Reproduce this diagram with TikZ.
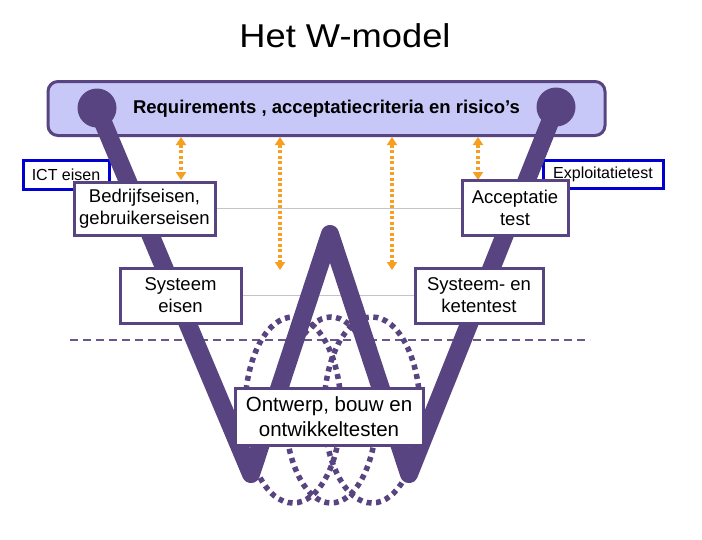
\documentclass[tikz,border=0pt]{standalone}
\usepackage{fontspec}
\setmainfont{Liberation Sans}
\usetikzlibrary{arrows.meta,calc}
\definecolor{wpurple}{RGB}{88,68,128}
\definecolor{barfill}{RGB}{200,200,248}
\definecolor{worange}{RGB}{245,160,35}
\definecolor{wblue}{RGB}{0,0,210}
\definecolor{wgray}{RGB}{195,195,202}
\begin{document}
\begin{tikzpicture}[x=1pt,y=-1pt,
  levelbox/.style={draw=wpurple, line width=3pt, fill=white, align=center, inner sep=0pt,
    font=\fontsize{18.5}{22}\selectfont},
  tagbox/.style={draw=wblue, line width=3pt, fill=white, inner sep=0pt,
    font=\fontsize{16}{19}\selectfont},
  wline/.style={draw=wpurple, line width=18pt, line join=round, line cap=round},
  oarrow/.style={draw=worange, line width=3.2pt, dash pattern=on 3pt off 2.5pt,
    {Triangle[width=10pt,length=8pt]}-{Triangle[width=10pt,length=8pt]}},
  dotring/.style={draw=wpurple, line width=5.5pt, dash pattern=on 5pt off 4.5pt},
  guide/.style={draw=wgray, line width=1pt},
  levelline/.style={draw=wpurple!90, line width=1.4pt, dash pattern=on 8pt off 5pt},
  bullet/.style={circle, fill=wpurple, minimum size=39pt, inner sep=0pt}
]
\useasboundingbox (0,0) rectangle (702,539);
\fill[white] (0,0) rectangle (702,539);

% title
\node[font=\fontsize{33}{38}\selectfont, xscale=1.1] (title) at (345,36) {Het W-model};

% boxes (placed first so guides can refer to them)
\node[levelbox, minimum width=141pt, minimum height=53pt] (bedr) at (144.5,208.5) {Bedrijfseisen,\\gebruikerseisen};
\node[levelbox, minimum width=106pt, minimum height=55pt] (acc) at (515,207.5) {Acceptatie\\test};
\node[levelbox, minimum width=121pt, minimum height=55pt] (sys) at (180.5,295.5) {Systeem\\eisen};
\node[levelbox, minimum width=128pt, minimum height=55pt] (ket) at (479,295.5) {Systeem- en\\ketentest};

% coordinates
\coordinate (bl) at (251,474);
\coordinate (pk) at (330,234);
\coordinate (br) at (409,474);
\coordinate (dl) at (70,340);
\coordinate (dr) at (590,340);
\coordinate (a1) at (181,180);
\coordinate (a2) at (280,270);
\coordinate (a3) at (392,270);
\coordinate (a4) at (478,180);

% guide lines
\draw[guide] (bedr.east) -- (bedr.east -| acc.west);
\draw[guide] (sys.east) -- (sys.east -| ket.west);

% dashed level line
\draw[levelline] (dl) -- (dr);

% dotted rings
\draw[dotring] (293,410) ellipse [x radius=48, y radius=93];
\draw[dotring] (331,410) ellipse [x radius=46, y radius=93];
\draw[dotring] (372,410) ellipse [x radius=48, y radius=93];

% tag boxes
\node[tagbox, minimum width=86pt, minimum height=29pt] (ict) at (66,174.5) {ICT eisen};
\node[tagbox, minimum width=120pt, minimum height=28pt] (expl) at (603,174) {Exploitatietest};

% top bar
\node[draw=wpurple, line width=3pt, fill=barfill, rounded corners=10pt,
      minimum width=557pt, minimum height=54pt, inner sep=0pt,
      font=\bfseries\fontsize{18.5}{22}\selectfont] (bar) at (326.5,108.5)
      {Requirements , acceptatiecriteria en risico’s};

% orange arrows
\draw[oarrow] (bar.south -| a1) -- (a1);
\draw[oarrow] (bar.south -| a2) -- (a2);
\draw[oarrow] (bar.south -| a3) -- (a3);
\draw[oarrow] (bar.south -| a4) -- (a4);

% the W
\node[bullet] (cl) at (97,108) {};
\node[bullet] (cr) at (556,107) {};
\draw[wline] (cl.center) -- (bl) -- (pk) -- (br) -- (cr.center);

% level boxes drawn over the W
\node[levelbox, minimum width=141pt, minimum height=53pt] at (bedr) {Bedrijfseisen,\\gebruikerseisen};
\node[levelbox, minimum width=106pt, minimum height=55pt] at (acc) {Acceptatie\\test};
\node[levelbox, minimum width=121pt, minimum height=55pt] at (sys) {Systeem\\eisen};
\node[levelbox, minimum width=128pt, minimum height=55pt] at (ket) {Systeem- en\\ketentest};
\node[levelbox, minimum width=188pt, minimum height=57pt, font=\fontsize{20.5}{25}\selectfont] (ont) at (329,416.5) {Ontwerp, bouw en\\ontwikkeltesten};
\end{tikzpicture}
\end{document}
